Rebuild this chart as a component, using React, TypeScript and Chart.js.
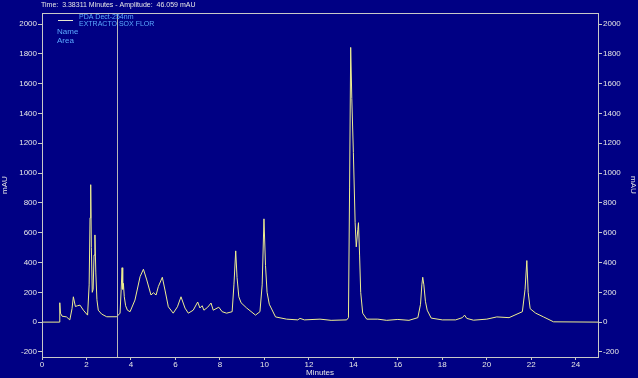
import React, { useEffect, useRef } from "react";
import { Chart, registerables } from "chart.js";

Chart.register(...registerables);

const times: number[] = [
  0, 0.78, 0.8, 0.83, 0.9, 1.1, 1.25, 1.35, 1.41, 1.5, 1.6, 1.71, 1.86, 2.05, 2.12, 2.16, 2.19, 2.22, 2.26, 2.3, 2.34, 2.38,
  2.42, 2.47, 2.53, 2.68, 2.91, 3.36, 3.51, 3.56, 3.6, 3.63, 3.66, 3.7, 3.76, 3.84, 3.96, 4.18, 4.41, 4.56, 4.71, 4.9, 5.01, 5.13,
  5.23, 5.41, 5.53, 5.68, 5.9, 6.09, 6.25, 6.43, 6.58, 6.8, 7.0, 7.1, 7.2, 7.28, 7.45, 7.6, 7.7, 7.95, 8.1, 8.3,
  8.55, 8.63, 8.71, 8.77, 8.85, 8.95, 9.2, 9.6, 9.8, 9.9, 9.98, 10.05, 10.12, 10.22, 10.5, 11.0, 11.5, 11.6, 11.8, 12.5, 13.0, 13.7, 13.78,
  13.83, 13.88, 13.93, 14.0, 14.08, 14.13, 14.2, 14.23, 14.28, 14.33, 14.42, 14.6, 15.1, 15.5, 16.0, 16.5, 16.9, 17.02, 17.08, 17.12, 17.17, 17.24, 17.32,
  17.5, 18.0, 18.6, 18.9, 19.0, 19.1, 19.4, 20.0, 20.45, 21.0, 21.6, 21.72, 21.8, 21.86, 21.95, 22.2, 22.55, 23.0, 25.0,
];
const absorbance: number[] = [
  0, 0, 130, 60, 40, 35, 15, 90, 170, 105, 110, 114, 80, 47, 250, 700, 922, 500, 200, 220, 450, 585,
  330, 150, 80, 54, 36, 36, 60, 220, 365, 220, 260, 170, 110, 80, 70, 148, 305, 355, 283, 182, 197, 182,
  238, 301, 215, 103, 60, 103, 170, 94, 60, 80, 135, 95, 110, 80, 100, 128, 80, 100, 70, 60,
  70, 250, 478, 300, 170, 130, 95, 47, 70, 250, 693, 380, 200, 120, 35, 20, 15, 25, 15, 20, 12, 15, 30,
  900, 1843, 1500, 1138, 667, 505, 620, 667, 450, 200, 60, 20, 20, 12, 18, 12, 30, 120, 250, 301, 250, 140, 80,
  27, 15, 15, 30, 47, 25, 13, 20, 35, 30, 70, 220, 413, 200, 90, 60, 35, 2, 0,
];
const yTickValues: number[] = [-200, 0, 200, 400, 600, 800, 1000, 1200, 1400, 1600, 1800, 2000];
const xTickValues: number[] = [0, 2, 4, 6, 8, 10, 12, 14, 16, 18, 20, 22, 24];
const cursorTime = 3.38311;
const headerText = "Time:  3.38311 Minutes - Amplitude:  46.059 mAU";
const legendLines: string[] = ["PDA Dect-254nm", "EXTRACTO SOX FLOR"];
const legendExtra: string[] = ["Name", "Area"];

const BG = "#000084";
const AXIS = "#c8c8c8";
const TEXT = "#e6e6e6";
const LEG = "#5aa8ff";
const FONT = "'Liberation Sans', Arial, sans-serif";

export default function App() {
  const ref = useRef<HTMLCanvasElement | null>(null);
  useEffect(() => {
    document.body.style.margin = "0";
    const canvas = ref.current!;
    const decor = {
      id: "decor",
      beforeDraw(chart: any) {
        const c = chart.ctx;
        c.save();
        c.fillStyle = BG;
        c.fillRect(0, 0, chart.width, chart.height);
        c.restore();
      },
      afterDraw(chart: any) {
        const c = chart.ctx;
        const a = chart.chartArea;
        c.save();
        c.strokeStyle = AXIS;
        c.lineWidth = 1;
        c.strokeRect(Math.round(a.left) + 0.5, Math.round(a.top) + 0.5, Math.round(a.right - a.left), Math.round(a.bottom - a.top));
        const cx = Math.round(chart.scales.x.getPixelForValue(cursorTime)) + 0.5;
        c.strokeStyle = "#b8b8b8";
        c.beginPath();
        c.moveTo(cx, a.top);
        c.lineTo(cx, a.bottom);
        c.stroke();
        c.fillStyle = TEXT;
        c.font = `7px ${FONT}`;
        c.textBaseline = "middle";
        c.fillText(headerText, 41, 5);
        c.strokeStyle = "#e8e8d0";
        c.beginPath();
        c.moveTo(58, 20.5);
        c.lineTo(73, 20.5);
        c.stroke();
        c.fillStyle = LEG;
        c.font = `7px ${FONT}`;
        c.fillText(legendLines[0], 79, 17);
        c.fillText(legendLines[1], 79, 24);
        c.font = `8px ${FONT}`;
        c.fillText(legendExtra[0], 57, 32);
        c.fillText(legendExtra[1], 57, 41);
        c.restore();
      },
    };
    const yScale = (pos: "left" | "right") => ({
      type: "linear" as const,
      position: pos,
      min: -234,
      max: 2074,
      afterBuildTicks: (s: any) => {
        s.ticks = yTickValues.map((v) => ({ value: v }));
      },
      afterFit: (s: any) => {
        s.width = pos === "left" ? 42 : 40;
      },
      grid: { display: true, drawOnChartArea: false, drawTicks: true, tickLength: 4, color: AXIS },
      border: { display: false },
      ticks: { color: TEXT, font: { family: FONT, size: 8 }, padding: 1, callback: (v: any) => String(v) },
      title: { display: true, text: "mAU", color: TEXT, font: { family: FONT, size: 8 }, padding: 0 },
    });
    const chart = new Chart(canvas, {
      type: "line",
      data: {
        datasets: [
          {
            data: times.map((t, i) => ({ x: t, y: absorbance[i] })),
            borderColor: "#eeee90",
            borderWidth: 1,
            pointRadius: 0,
            tension: 0,
            fill: false,
          },
        ],
      },
      options: {
        animation: false,
        responsive: false,
        maintainAspectRatio: false,
        layout: { padding: { top: 13, bottom: 0, left: 0, right: 0 } },
        plugins: { legend: { display: false }, tooltip: { enabled: false }, title: { display: false } },
        scales: {
          x: {
            type: "linear",
            min: 0,
            max: 25,
            afterBuildTicks: (s: any) => {
              s.ticks = xTickValues.map((v) => ({ value: v }));
            },
            afterFit: (s: any) => {
              s.height = 21;
            },
            grid: { display: true, drawOnChartArea: false, drawTicks: true, tickLength: 3, color: AXIS },
            border: { display: false },
            ticks: { color: TEXT, font: { family: FONT, size: 8 }, padding: 0, maxRotation: 0, callback: (v: any) => String(v) },
            title: { display: true, text: "Minutes", color: TEXT, font: { family: FONT, size: 8 }, padding: 0 },
          },
          y: yScale("left"),
          y2: yScale("right"),
        },
      },
      plugins: [decor],
    });
    return () => chart.destroy();
  }, []);
  return (
    <div style={{ position: "fixed", left: 0, top: 0, width: 638, height: 378, background: BG }}>
      <canvas ref={ref} width={638} height={378} style={{ display: "block", width: 638, height: 378 }} />
    </div>
  );
}
